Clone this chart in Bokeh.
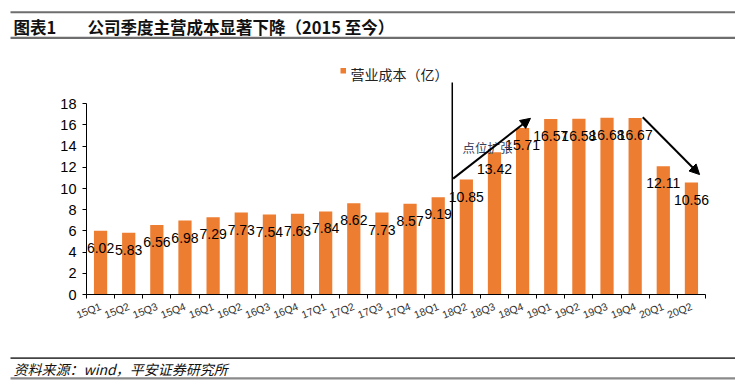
from bokeh.plotting import figure
from bokeh.layouts import column
from bokeh.models import (Label, BoxAnnotation, Arrow, NormalHead, FixedTicker,
                          Range1d, ColumnDataSource)
from bokeh.core.properties import value
from bokeh.embed import file_html
from bokeh.resources import INLINE

# ---------------- data ----------------
categories = ["15Q1", "15Q2", "15Q3", "15Q4", "16Q1", "16Q2", "16Q3", "16Q4",
              "17Q1", "17Q2", "17Q3", "17Q4", "18Q1", "18Q2", "18Q3", "18Q4",
              "19Q1", "19Q2", "19Q3", "19Q4", "20Q1", "20Q2"]
cost = [6.02, 5.83, 6.56, 6.98, 7.29, 7.73, 7.54, 7.63, 7.84, 8.62, 7.73, 8.57,
        9.19, 10.85, 13.42, 15.71, 16.57, 16.58, 16.68, 16.67, 12.11, 10.56]
y_ticks = [0, 2, 4, 6, 8, 10, 12, 14, 16, 18]
series_name = "营业成本（亿）"
title_tag = "图表1"
title_text = "公司季度主营成本显著下降（2015 至今）"
source_text = "资料来源：wind，平安证券研究所"
note_text = "点位扩张"
# arrows (data coords): [x_start, y_start, x_end, y_end]
arrow_up = [12.53, 10.94, 15.28, 16.63]
arrow_down = [19.27, 16.73, 21.29, 11.32]
note_pos = [12.86, 13.87]

W = 735
HEAD_H, MAIN_H, FOOT_H = 40, 310, 39
BAR = "#ED7D31"
NUM_FONT = "Liberation Sans"
CJK = "Noto Sans CJK SC"

n = len(categories)
PX_CAT = (705 - 86) / n          # pixels per category
PX_UNIT = (294 - 103.3) / 18     # pixels per y unit
FL = 86                          # frame left (page px)
FR = 717                         # frame right (page px)
FT_PAGE = HEAD_H + 4             # frame top (page px)
FB_PAGE = 294                    # frame bottom (page px)
x_end = -0.5 + (FR - FL) / PX_CAT
y_top = (FB_PAGE - FT_PAGE) / PX_UNIT


def blank(h):
    f = figure(width=W, height=h, x_range=Range1d(0, W), y_range=Range1d(h, 0),
               output_backend="svg", toolbar_location=None,
               x_axis_location=None, y_axis_location=None,
               min_border=0, min_border_left=0, min_border_right=0,
               min_border_top=0, min_border_bottom=0, frame_align=False,
               background_fill_color="white", border_fill_color="white")
    f.outline_line_color = None
    f.grid.visible = False
    return f


# ---------------- header ----------------
head = blank(HEAD_H)
head.quad(left=[10, 10], right=[W, W], top=[10.7, 36.3], bottom=[12.7, 38.5],
          fill_color="#6e6e6e", line_color=None)
head.text(x=[13, 87], y=[26, 26], text=[title_tag, title_text],
          text_font=value(CJK), text_font_style="bold", text_font_size="16.5px",
          text_color="#111111", text_baseline="middle", text_align="left")

# ---------------- main chart ----------------
idx = list(range(n))
src = ColumnDataSource(dict(x=idx, y=cost, lbl=[f"{v:.2f}" for v in cost]))

p = figure(width=W, height=MAIN_H, x_range=Range1d(-0.5, x_end),
           y_range=Range1d(0, y_top), output_backend="svg",
           toolbar_location=None, frame_align=False,
           min_border_left=FL, min_border_right=W - FR,
           min_border_top=FT_PAGE - HEAD_H,
           min_border_bottom=HEAD_H + MAIN_H - FB_PAGE,
           background_fill_color="white", border_fill_color="white")
p.outline_line_color = None
p.xgrid.visible = False
p.ygrid.visible = False

bars = p.vbar(x="x", top="y", width=0.47, source=src, fill_color=BAR,
              line_color=None)
p.text(x="x", y="y", text="lbl", source=src, text_align="center",
       text_baseline="middle", y_offset=17, text_font=value(NUM_FONT),
       text_font_size="14px", text_color="#000000")

# divider between 18Q1 and 18Q2
div_x = categories.index("18Q2") - 0.5
p.segment(x0=[div_x], y0=[0], x1=[div_x], y1=[20], line_color="black",
          line_width=1.5)

# annotation text and arrows
p.add_layout(Label(x=note_pos[0], y=note_pos[1], text=note_text,
                   text_font=CJK, text_font_size="12.5px",
                   text_color="#3a3f5c", text_baseline="middle",
                   text_align="left"))
for a in (arrow_up, arrow_down):
    p.add_layout(Arrow(x_start=a[0], y_start=a[1], x_end=a[2], y_end=a[3],
                       line_width=2, line_color="black",
                       end=NormalHead(size=10, fill_color="black",
                                      line_color="black")))

# axes
yax = p.yaxis[0]
yax.ticker = FixedTicker(ticks=y_ticks)
yax.bounds = (0, 18)
yax.major_tick_out = 4
yax.major_tick_in = 0
yax.minor_tick_line_color = None
yax.axis_line_color = "black"
yax.major_tick_line_color = "black"
yax.major_label_text_font = NUM_FONT
yax.major_label_text_font_size = "14.5px"
yax.major_label_text_color = "black"
yax.major_label_standoff = 6

xax = p.xaxis[0]
xax.ticker = FixedTicker(ticks=idx, minor_ticks=[i - 0.5 for i in range(n + 1)])
xax.bounds = (-0.5, n - 0.5)
xax.major_label_overrides = {i: c for i, c in enumerate(categories)}
xax.major_tick_line_color = None
xax.major_tick_out = 0
xax.minor_tick_out = 4
xax.minor_tick_in = 0
xax.minor_tick_line_color = "black"
xax.axis_line_color = "black"
xax.major_label_orientation = 0.38
xax.major_label_text_font = NUM_FONT
xax.major_label_text_font_size = "10.5px"
xax.major_label_text_color = "#333333"
xax.major_label_standoff = 7


# legend (inside frame, frame-relative screen units)
def rx(sx):
    return sx - FL


def ry(sy):
    return FB_PAGE - sy


p.add_layout(BoxAnnotation(left=rx(340), right=rx(345.5), top=ry(67.5),
                           bottom=ry(73), left_units="screen",
                           right_units="screen", top_units="screen",
                           bottom_units="screen", fill_color=BAR,
                           fill_alpha=1, line_color=None))
p.add_layout(Label(x=rx(350), y=ry(73), x_units="screen", y_units="screen",
                   text=series_name, text_font=CJK, text_font_size="14px",
                   text_color="#222222", text_baseline="middle"))

# ---------------- footer ----------------
foot = blank(FOOT_H)
top0 = HEAD_H + MAIN_H
foot.quad(left=[10, 10], right=[W, W],
          top=[356.7 - top0, 376.7 - top0], bottom=[358.5 - top0, 378.9 - top0],
          fill_color=["#444444", "#8a8a8a"], line_color=None)
foot.text(x=[13], y=[368 - top0], text=[source_text], text_font=value(CJK),
          text_font_style="italic", text_font_size="14px",
          text_color="#111111", text_baseline="middle", text_align="left")

layout = column(head, p, foot, spacing=0)
open("out.html", "w").write(file_html(layout, INLINE))
